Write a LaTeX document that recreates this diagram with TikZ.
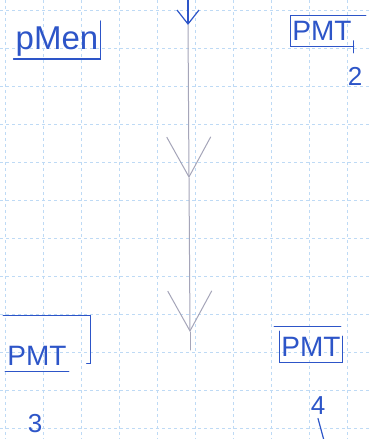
\documentclass[tikz,border=0pt]{standalone}
\usepackage{fontspec}
\setmainfont{Liberation Sans}
\usetikzlibrary{arrows.meta,positioning}

\definecolor{ink}{RGB}{45,85,200}
\definecolor{pencil}{RGB}{165,165,185}
\definecolor{paper}{RGB}{190,218,245}

\begin{document}
\begin{tikzpicture}[x=1pt, y=-1pt,
    unit/.style={text=ink, font=\fontsize{28}{30}\selectfont, inner xsep=2pt, inner ysep=6pt},
    frame/.style={draw=ink, line width=1.2pt, line cap=round},
    num/.style={text=ink, font=\fontsize{26}{28}\selectfont},
    paperline/.style={draw=paper, dashed, line width=0.6pt},
    flow/.style={draw=pencil, line width=1pt, line cap=round}
]
\useasboundingbox (0,0) rectangle (371,439);
\fill[white] (0,0) rectangle (371,439);

% squared paper
\foreach \gx in {5,43,...,371} \draw[paperline] (\gx,0) -- (\gx,439);
\foreach \gy in {10,48,...,439} \draw[paperline] (0,\gy) -- (371,\gy);

\node[unit, font=\fontsize{33}{35}\selectfont, inner ysep=2pt] (pmel) at (57,42) {pMen};

\node[unit] (pmt2) at (322,31) {PMT};
\node[num] (n2) at (355,76) {2};

\node[unit] (pmt3) at (37,356) {PMT};
\node[num] (n3) at (35,424) {3};

\node[unit] (pmt4) at (311,347) {PMT};
\node[num] (n4) at (318,406) {4};

% brackets round the units
\draw[frame] (pmel.south west) -- (pmel.south east) -- ([yshift=4pt]pmel.north east);
\draw[frame] (pmt2.south east) -- (pmt2.south west) -- (pmt2.north west) -- ([xshift=12pt]pmt2.north east);
\draw[frame] ([yshift=-6pt]pmt2.south east) -- ([yshift=6pt]pmt2.south east);
\draw[frame] ([yshift=25pt,xshift=-2pt]pmt3.north west) -- ([yshift=25pt,xshift=22pt]pmt3.north east)
    -- ([yshift=8pt,xshift=22pt]pmt3.south east) -- ([yshift=8pt,xshift=18pt]pmt3.south east);
\draw[frame] (pmt3.south west) -- (pmt3.south east);
\draw[frame] ([xshift=-5pt,yshift=5pt]pmt4.north west) -- ([xshift=-2pt,yshift=5pt]pmt4.north east);
\draw[frame] (pmt4.north west) -- (pmt4.south west) -- (pmt4.south east) -- ([yshift=-5pt]pmt4.north east);
\draw[frame] (n4.south) -- ++(6,22);

% flow down the middle
\coordinate (src) at (188,0);
\coordinate (tipA) at (188,25);
\coordinate (tipB) at (189,178);
\coordinate (tipC) at (190,332);
\coordinate (sink) at (190,350);
\draw[frame, -{Straight Barb[length=14pt,width=22pt]}] (src) -- (tipA);
\draw[flow, -{Straight Barb[length=40pt,width=44pt]}] (tipA) -- (tipB);
\draw[flow, -{Straight Barb[length=40pt,width=44pt]}] (tipB) -- (tipC);
\draw[flow] (tipC) -- (sink);

\end{tikzpicture}
\end{document}
